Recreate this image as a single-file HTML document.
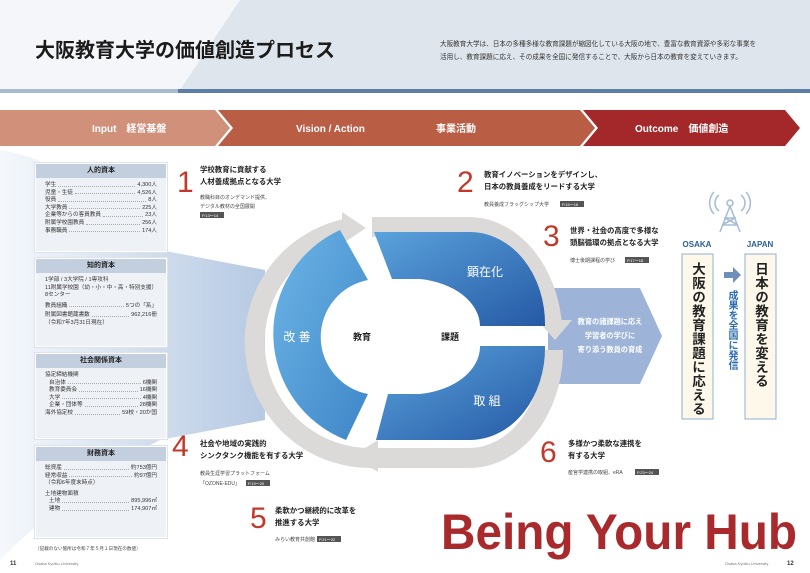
<!DOCTYPE html>
<html><head><meta charset="utf-8">
<style>
html,body{margin:0;padding:0;background:#fff;}
body{width:810px;height:573px;overflow:hidden;position:relative;font-family:"Liberation Sans","Noto Sans CJK JP",sans-serif;}
svg{position:absolute;left:0;top:0;}
text{font-family:"Liberation Sans","Noto Sans CJK JP",sans-serif;}
.card{position:absolute;left:35px;width:130px;background:#eef1f6;border:1px solid #fff;box-shadow:0 0 0 1px #dde3ec;font-size:5.6px;color:#333;line-height:7.6px;}
.card .h{background:#c3cede;text-align:center;font-weight:bold;font-size:7px;height:14px;line-height:14px;color:#222;margin-bottom:4px;}
.row{display:flex;padding:0 9px;white-space:nowrap;}
.row .d{flex:1;border-bottom:1px dotted #aaa;margin:0 2px 3px;}
.ind{padding-left:13px;}
.p{padding:0 9px;}
.vt{position:absolute;writing-mode:vertical-rl;font-weight:bold;color:#222;}
</style></head><body>
<svg width="810" height="573" viewBox="0 0 810 573" xmlns="http://www.w3.org/2000/svg">
<defs>
<linearGradient id="bl" x1="0" y1="0" x2="1" y2="1"><stop offset="0" stop-color="#6cb5e6"/><stop offset="1" stop-color="#3f86c8"/></linearGradient>
<linearGradient id="br" x1="0" y1="0" x2="1" y2="1"><stop offset="0" stop-color="#5ba3dc"/><stop offset="1" stop-color="#2559a5"/></linearGradient>
<linearGradient id="bg1" x1="0" y1="0" x2="1" y2="0"><stop offset="0" stop-color="#f4f7fb"/><stop offset="1" stop-color="#a9c0de"/></linearGradient>
</defs>
<rect x="0" y="0" width="810" height="93" fill="#dfe5ec"/>
<polygon points="0,0 240,0 178,93 0,93" fill="#f4f6f9"/>
<rect x="0" y="89" width="810" height="4" fill="#5b7ea6"/>
<rect x="0" y="89" width="178" height="4" fill="#a9bbd0"/>
<text x="35" y="57" font-size="20" font-weight="bold" fill="#1b1b1b">大阪教育大学の価値創造プロセス</text>
<text x="440" y="46" font-size="6.6" fill="#333">大阪教育大学は、日本の多種多様な教育課題が縮図化している大阪の地で、豊富な教育資源や多彩な事業を</text>
<text x="440" y="59" font-size="6.6" fill="#333">活用し、教育課題に応え、その成果を全国に発信することで、大阪から日本の教育を変えていきます。</text>
<polygon points="0,110 215,110 230,128 215,146 0,146" fill="#d0907a"/>
<polygon points="218,110 580,110 595,128 580,146 218,146 233,128" fill="#ba5d45"/>
<polygon points="583,110 785,110 800,128 785,146 583,146 598,128" fill="#a4272a"/>
<text x="92" y="132" font-size="10" font-weight="bold" fill="#fff">Input　経営基盤</text>
<text x="296" y="132" font-size="10" font-weight="bold" fill="#fff">Vision / Action</text>
<text x="436" y="132" font-size="10" font-weight="bold" fill="#fff">事業活動</text>
<text x="635" y="132" font-size="10" font-weight="bold" fill="#fff">Outcome　価値創造</text>
<path d="M0,150 C60,160 90,190 160,250 L265,270 L265,420 L160,440 C100,470 40,520 0,560 Z" fill="url(#bg1)" opacity="0.85"/>
<polygon points="548,288 640,288 662,336 640,384 548,384" fill="#9db4d8"/>
<text x="610" y="324" font-size="7.2" font-weight="bold" fill="#fff" text-anchor="middle">教育の諸課題に応え</text>
<text x="610" y="338" font-size="7.2" font-weight="bold" fill="#fff" text-anchor="middle">学習者の学びに</text>
<text x="610" y="352" font-size="7.2" font-weight="bold" fill="#fff" text-anchor="middle">寄り添う教員の育成</text>
<g fill="none" stroke="#dcdad8" stroke-width="20">
<path d="M376,458 A116,116 0 0 1 345,229"/>
<path d="M372,227 L468,227 A84,110 0 0 1 552,325"/>
<path d="M553,350 A84,108 0 0 1 469,458 L378,458"/>
</g>
<polygon points="342,212 366,228 342,244" fill="#dcdad8"/>
<polygon points="537,320 572,320 555,340" fill="#dcdad8"/>
<polygon points="378,440 352,456 378,472" fill="#dcdad8"/>
<path d="M340,230 L368,280 A58,58 0 0 0 368,394 L346,440 A114,114 0 0 1 340,230 Z" fill="url(#bl)"/>
<path d="M374,232 L470,232 A75,92 0 0 1 545,326 L480,326 A70,48 0 0 0 420,279 L392,279 Z" fill="url(#br)"/>
<path d="M480,346 L545,346 A75,92 0 0 1 470,440 L376,440 L388,394 L420,394 A70,48 0 0 0 480,346 Z" fill="url(#br)"/>
<text x="297" y="341" font-size="12" fill="#fff" text-anchor="middle">改 善</text>
<text x="485" y="276" font-size="12" fill="#fff" text-anchor="middle">顕在化</text>
<text x="487" y="405" font-size="12" fill="#fff" text-anchor="middle">取 組</text>
<text x="362" y="340" font-size="9" font-weight="bold" fill="#222" text-anchor="middle">教育</text>
<text x="450" y="340" font-size="9" font-weight="bold" fill="#222" text-anchor="middle">課題</text>
<g fill="#c0392b" font-size="30" style="font-family:'DejaVu Sans','Liberation Sans',sans-serif;font-weight:200">
<text x="177" y="192">1</text><text x="457" y="192">2</text><text x="543" y="246">3</text>
<text x="172" y="456">4</text><text x="250" y="528">5</text><text x="540" y="462">6</text>
</g>
<g font-size="7.4" font-weight="bold" fill="#222">
<text x="200" y="172">学校教育に貢献する</text><text x="200" y="184">人材養成拠点となる大学</text>
<text x="484" y="177">教育イノベーションをデザインし、</text><text x="484" y="189">日本の教員養成をリードする大学</text>
<text x="570" y="233">世界・社会の高度で多様な</text><text x="570" y="245">頭脳循環の拠点となる大学</text>
<text x="200" y="446">社会や地域の実践的</text><text x="200" y="458">シンクタンク機能を有する大学</text>
<text x="275" y="513">柔軟かつ継続的に改革を</text><text x="275" y="525">推進する大学</text>
<text x="568" y="446">多様かつ柔軟な連携を</text><text x="568" y="458">有する大学</text>
</g>
<g font-size="5" fill="#444">
<text x="200" y="199">教職科目のオンデマンド提供、</text><text x="200" y="208">デジタル教材の全国展開</text>
<text x="484" y="206">教員養成フラッグシップ大学</text>
<text x="570" y="262">博士後期課程の学び</text>
<text x="200" y="475">教員生涯学習プラットフォーム</text><text x="200" y="485">「OZONE-EDU」</text>
<text x="275" y="541">みらい教育共創館</text>
<text x="568" y="474">産官学連携の取組、eRA</text>
</g>
<g fill="#555"><rect x="200" y="212" width="24" height="6"/><rect x="560" y="201" width="24" height="6"/><rect x="625" y="257" width="24" height="6"/><rect x="246" y="480" width="24" height="6"/><rect x="317" y="536" width="24" height="6"/><rect x="635" y="469" width="24" height="6"/></g>
<g fill="#fff" font-size="4"><text x="202" y="217">P.13～14</text><text x="562" y="206">P.15～16</text><text x="627" y="262">P.17～18</text><text x="248" y="485">P.19～20</text><text x="319" y="541">P.21～22</text><text x="637" y="474">P.23～24</text></g>
<g stroke="#a9bdd6" fill="none" stroke-width="1.6">
<path d="M714,192 A16,16 0 0 0 714,214"/><path d="M719,195 A10,10 0 0 0 719,211"/>
<path d="M746,192 A16,16 0 0 1 746,214"/><path d="M741,195 A10,10 0 0 1 741,211"/>
<circle cx="730" cy="203" r="3"/>
<path d="M730,206 L720,232 M730,206 L740,232 M724,218 L736,218 M722,225 L738,225 M725,218 L738,225 M735,218 L722,225"/>
</g>
<text x="697" y="247" font-size="8" font-weight="bold" fill="#2d5f95" text-anchor="middle">OSAKA</text>
<text x="760" y="247" font-size="8" font-weight="bold" fill="#2d5f95" text-anchor="middle">JAPAN</text>
<rect x="682" y="254" width="31" height="165" fill="#fdf8ea" stroke="#8fb0d0" stroke-width="1"/>
<rect x="745" y="254" width="31" height="165" fill="#fdf8ea" stroke="#8fb0d0" stroke-width="1"/>
<polygon points="724,272 733,272 733,267 741,275 733,283 733,278 724,278" fill="#6e8fb8"/>
<text x="441" y="549" font-size="50" font-weight="bold" fill="#a92a2c" textLength="356" lengthAdjust="spacingAndGlyphs" style="font-family:'Liberation Sans Narrow','Liberation Sans',sans-serif">Being Your Hub</text>
<text x="10" y="565" font-size="6" font-weight="bold" fill="#333">11</text>
<text x="35" y="565" font-size="4" fill="#777">Osaka Kyoiku University</text>
<text x="725" y="565" font-size="4" fill="#777">Osaka Kyoiku University</text>
<text x="787" y="565" font-size="6" font-weight="bold" fill="#333">12</text>
<text x="35" y="550" font-size="4.6" fill="#444">（記載のない箇所は令和７年５月１日現在の数値）</text>
</svg>

<div class="vt" style="left:689px;top:262px;font-size:13.5px;line-height:17px;letter-spacing:0.5px;">大阪の教育課題に応える</div>
<div class="vt" style="left:752px;top:262px;font-size:13.5px;line-height:17px;letter-spacing:0.5px;">日本の教育を変える</div>
<div class="vt" style="left:724px;top:290px;font-size:10px;line-height:14px;color:#2d6cb0;">成果を全国に発信</div>

<div class="card" style="top:163px;height:87px;">
<div class="h">人的資本</div>
<div class="row">学生<span class="d"></span>4,300人</div>
<div class="row">児童・生徒<span class="d"></span>4,526人</div>
<div class="row">役員<span class="d"></span>8人</div>
<div class="row">大学教員<span class="d"></span>225人</div>
<div class="row">企業等からの客員教員<span class="d"></span>23人</div>
<div class="row">附属学校園教員<span class="d"></span>256人</div>
<div class="row">事務職員<span class="d"></span>174人</div>
</div>
<div class="card" style="top:258px;height:87px;">
<div class="h">知的資本</div>
<div class="p">1学部 / 3大学院 / 1専攻科</div>
<div class="p">11附属学校園（幼・小・中・高・特別支援）</div>
<div class="p" style="margin-bottom:3px">8センター</div>
<div class="row">教員組織<span class="d"></span>5つの「系」</div>
<div class="row" style="margin-top:2px">附属図書館蔵書数<span class="d"></span>962,216冊</div>
<div class="p">（令和7年3月31日現在）</div>
</div>
<div class="card" style="top:353px;height:84px;">
<div class="h">社会関係資本</div>
<div class="p">協定締結機関</div>
<div class="row ind">自治体<span class="d"></span>6機関</div>
<div class="row ind">教育委員会<span class="d"></span>16機関</div>
<div class="row ind">大学<span class="d"></span>4機関</div>
<div class="row ind">企業・団体等<span class="d"></span>28機関</div>
<div class="row">海外協定校<span class="d"></span>59校・20か国</div>
</div>
<div class="card" style="top:446px;height:90px;">
<div class="h">財務資本</div>
<div class="row">総資産<span class="d"></span>約753億円</div>
<div class="row">経常収益<span class="d"></span>約97億円</div>
<div class="p" style="margin-bottom:3px">（令和6年度末時点）</div>
<div class="p">土地建物面積</div>
<div class="row ind">土地<span class="d"></span>895,996㎡</div>
<div class="row ind">建物<span class="d"></span>174,907㎡</div>
</div>
</body></html>
